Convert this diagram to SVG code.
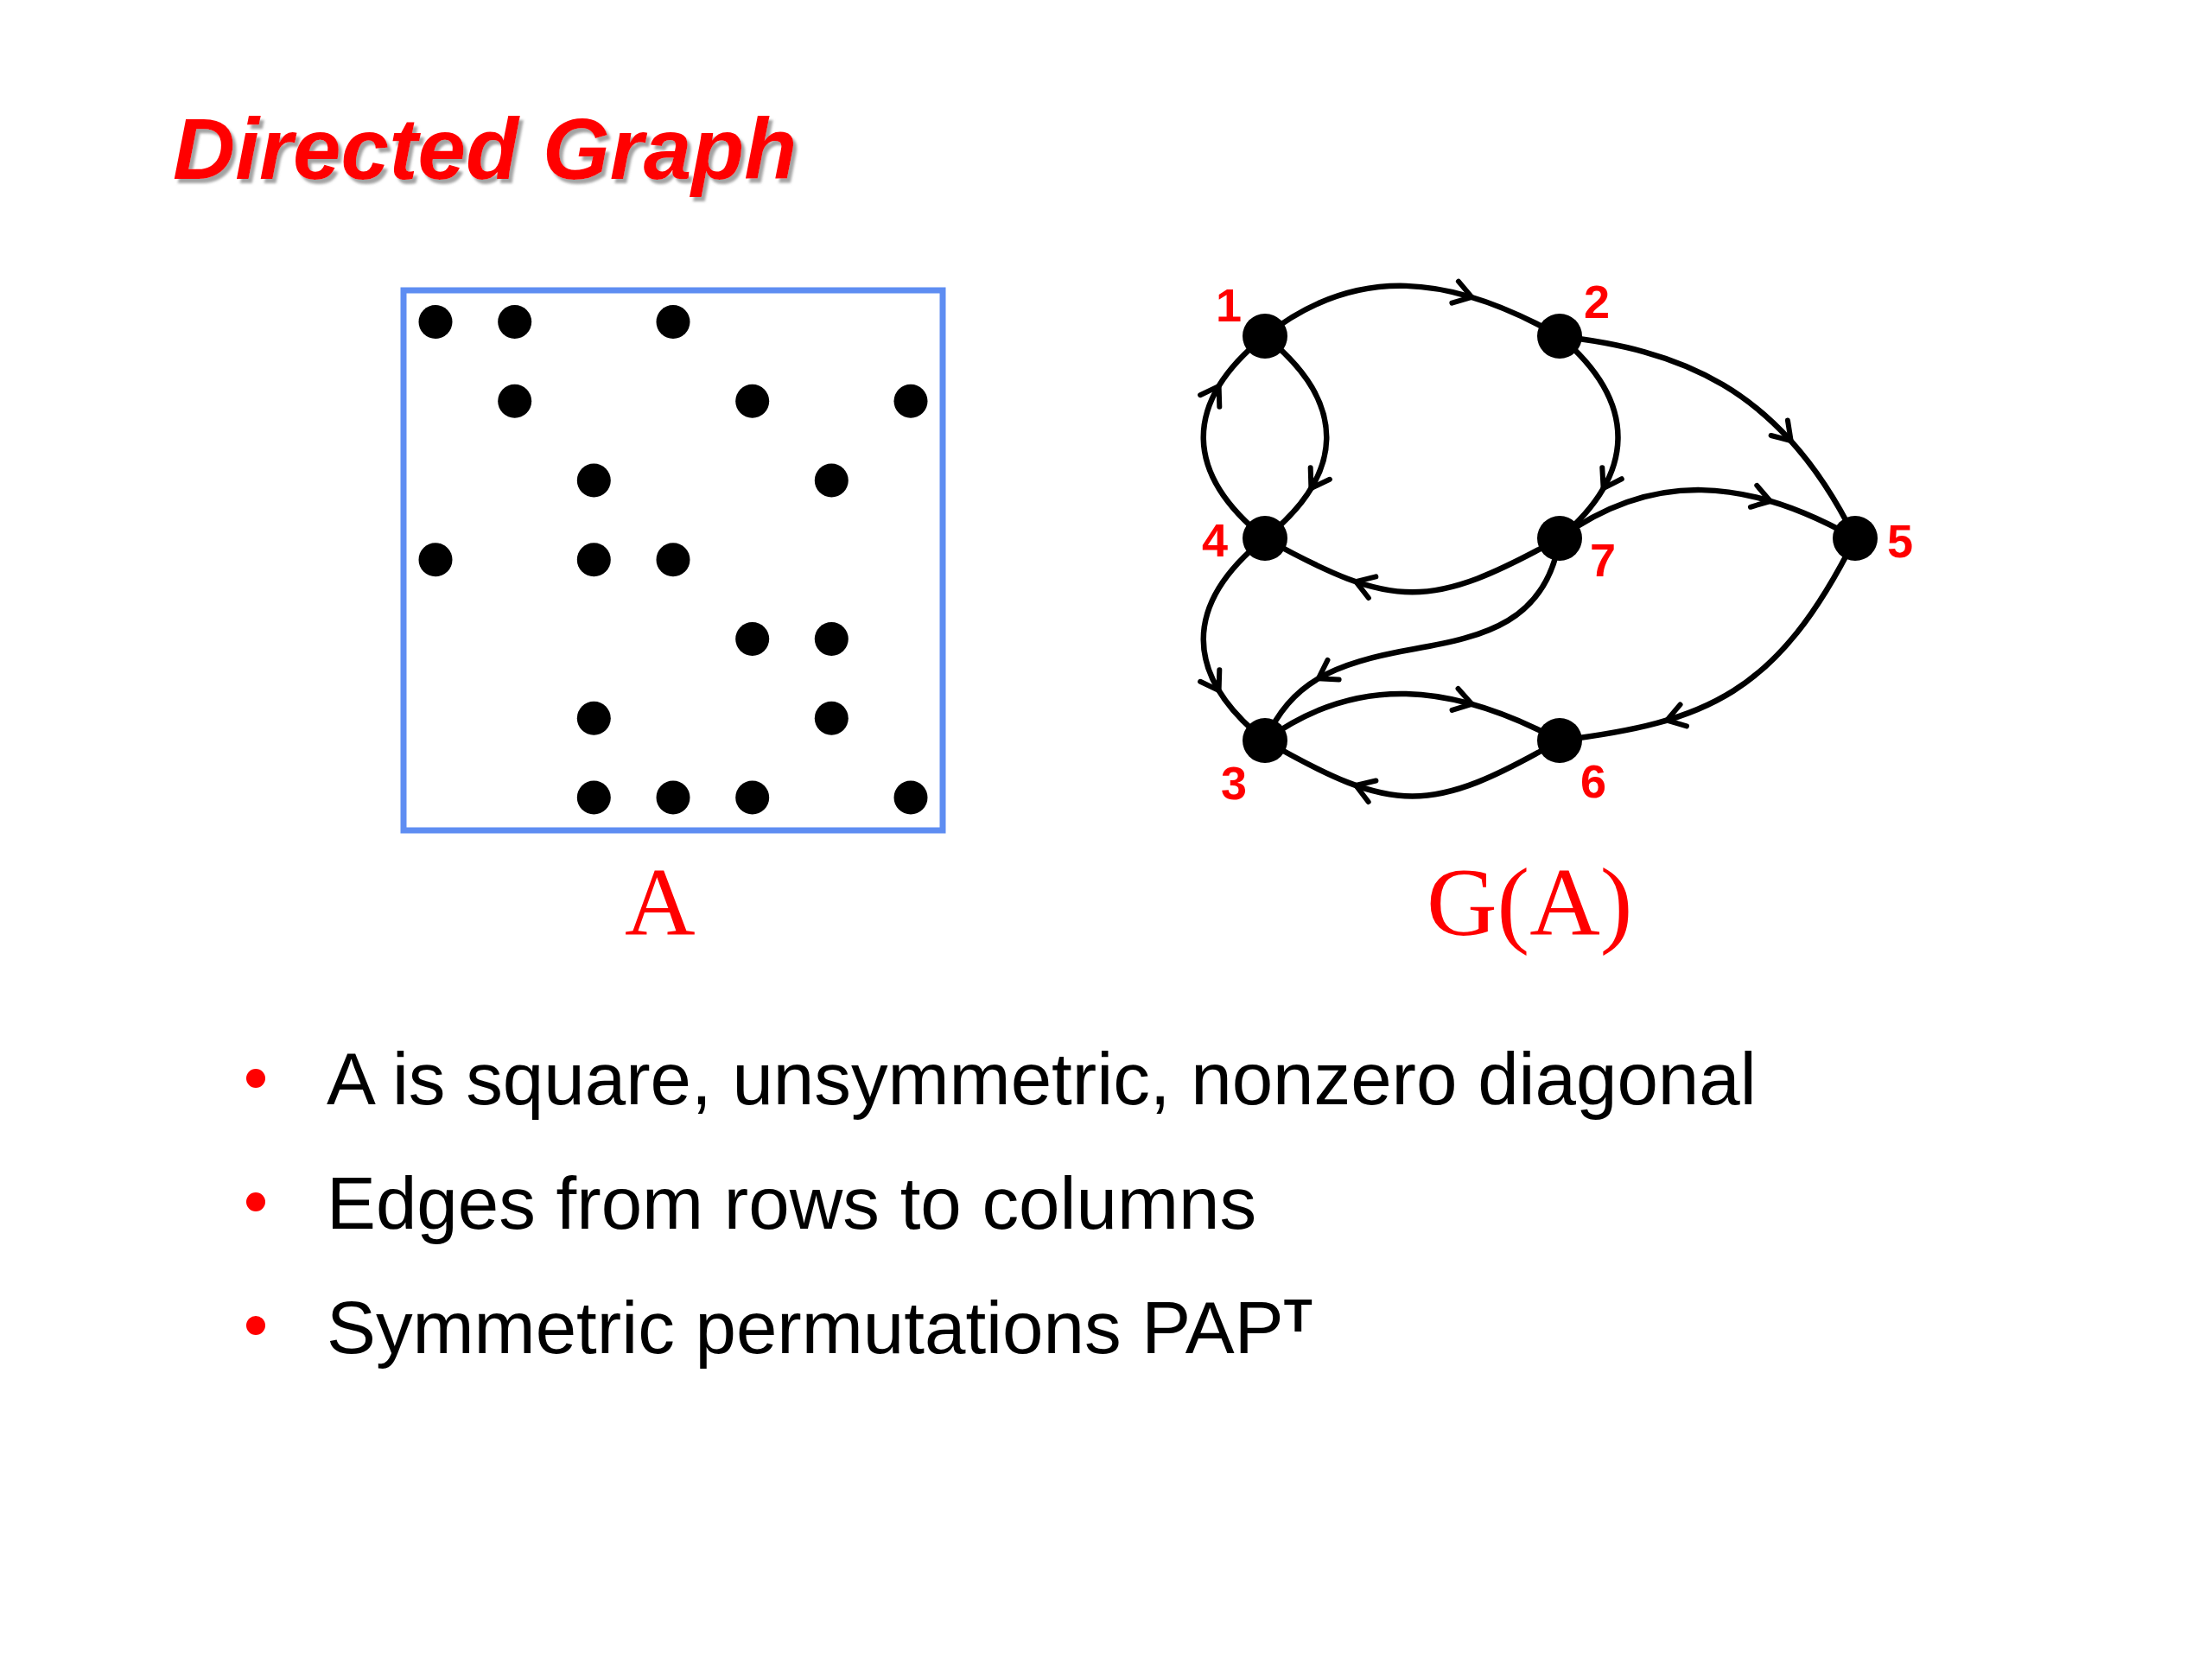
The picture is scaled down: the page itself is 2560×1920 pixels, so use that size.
<svg xmlns="http://www.w3.org/2000/svg" width="2560" height="1920" viewBox="0 0 2560 1920">
<defs>
<style>
.edge{fill:none;stroke:#000;stroke-width:6.5;stroke-linecap:round}
.chev{fill:none;stroke:#000;stroke-width:6;stroke-linecap:round;stroke-linejoin:round}
.node{fill:#000}
.nl{font-family:"Liberation Sans",Arial,sans-serif;font-weight:bold;font-size:54px;fill:#ff0000;text-anchor:middle}
.dot{fill:#000}
.bul{fill:#ff0000}
.bt{font-family:"Liberation Sans",Arial,sans-serif;font-size:85.3px;fill:#000}
.cap{font-family:"Liberation Serif","Times New Roman",serif;font-size:113px;fill:#ff0000}
.title{font-family:"Liberation Sans",Arial,sans-serif;font-weight:bold;font-style:italic;font-size:100px;fill:#ff0000}
</style>
<filter id="sh" x="-5%" y="-20%" width="115%" height="150%">
<feDropShadow dx="4" dy="5" stdDeviation="1.5" flood-color="#8c8c8c" flood-opacity="0.8"/>
</filter>
<path id="ar" d="M-20,-13 L0,0 L-20,13" class="chev"/>
</defs>
<rect width="2560" height="1920" fill="#fff"/>

<text class="title" x="200" y="207" filter="url(#sh)">Directed Graph</text>

<g id="matrix">
<rect x="467" y="336" width="624" height="625" fill="none" stroke="#5e8df2" stroke-width="7"/>
<circle class="dot" cx="504" cy="372.5" r="19.5"/>
<circle class="dot" cx="595.7" cy="372.5" r="19.5"/>
<circle class="dot" cx="779" cy="372.5" r="19.5"/>
<circle class="dot" cx="595.7" cy="464.2" r="19.5"/>
<circle class="dot" cx="870.7" cy="464.2" r="19.5"/>
<circle class="dot" cx="1054" cy="464.2" r="19.5"/>
<circle class="dot" cx="687.3" cy="556" r="19.5"/>
<circle class="dot" cx="962.3" cy="556" r="19.5"/>
<circle class="dot" cx="504" cy="647.7" r="19.5"/>
<circle class="dot" cx="687.3" cy="647.7" r="19.5"/>
<circle class="dot" cx="779" cy="647.7" r="19.5"/>
<circle class="dot" cx="870.7" cy="739.5" r="19.5"/>
<circle class="dot" cx="962.3" cy="739.5" r="19.5"/>
<circle class="dot" cx="687.3" cy="831.2" r="19.5"/>
<circle class="dot" cx="962.3" cy="831.2" r="19.5"/>
<circle class="dot" cx="687.3" cy="923" r="19.5"/>
<circle class="dot" cx="779" cy="923" r="19.5"/>
<circle class="dot" cx="870.7" cy="923" r="19.5"/>
<circle class="dot" cx="1054" cy="923" r="19.5"/>
</g>
<text class="cap" x="723" y="1082">A</text>

<g id="edges">
<path class="edge" d="M1464,389 C1570,305 1680,318 1805,389"/>
<use href="#ar" transform="translate(1703.3,343.9) rotate(16.8)"/>
<path class="edge" d="M1464,389 C1559,465 1559,547 1464,623"/>
<use href="#ar" transform="translate(1517.4,565.1) rotate(121.3)"/>
<path class="edge" d="M1464,623 C1369,547 1369,465 1464,389"/>
<use href="#ar" transform="translate(1410.6,446.9) rotate(-58.7)"/>
<path class="edge" d="M1805,389 C1895,465 1895,547 1805,623"/>
<use href="#ar" transform="translate(1855.6,565.1) rotate(119.9)"/>
<path class="edge" d="M1805,389 C1940,405 2060,445 2147,623"/>
<use href="#ar" transform="translate(2072.7,510.1) rotate(47.9)"/>
<path class="edge" d="M1805,623 C1912,545 2022,552 2147,623"/>
<use href="#ar" transform="translate(2048.8,580) rotate(16.5)"/>
<path class="edge" d="M1805,623 C1655,706 1614,706 1464,623"/>
<use href="#ar" transform="translate(1569.2,673.2) rotate(-161)"/>
<path class="edge" d="M1805,623 C1790,720 1717,737 1637,751 C1540,768 1495,790 1464,857"/>
<use href="#ar" transform="translate(1525.8,785.3) rotate(149.6)"/>
<path class="edge" d="M1464,623 C1369,699 1369,781 1464,857"/>
<use href="#ar" transform="translate(1410.6,799.1) rotate(58.7)"/>
<path class="edge" d="M1464,857 C1570,780 1680,790 1805,857"/>
<use href="#ar" transform="translate(1703.3,814.8) rotate(15.6)"/>
<path class="edge" d="M1805,857 C1655,943 1614,943 1464,857"/>
<use href="#ar" transform="translate(1569.2,909) rotate(-160.4)"/>
<path class="edge" d="M2147,623 C2057,803 1975,836 1805,857"/>
<use href="#ar" transform="translate(1929.1,833.6) rotate(163.4)"/>
</g>

<g id="node-1"><circle class="node" cx="1464" cy="389" r="26"/><text class="nl" x="1422" y="372">1</text></g>
<g id="node-2"><circle class="node" cx="1805" cy="389" r="26"/><text class="nl" x="1848" y="368">2</text></g>
<g id="node-3"><circle class="node" cx="1464" cy="857" r="26"/><text class="nl" x="1428" y="925">3</text></g>
<g id="node-4"><circle class="node" cx="1464" cy="623" r="26"/><text class="nl" x="1406" y="644">4</text></g>
<g id="node-5"><circle class="node" cx="2147" cy="623" r="26"/><text class="nl" x="2199" y="645">5</text></g>
<g id="node-6"><circle class="node" cx="1805" cy="857" r="26"/><text class="nl" x="1844" y="923">6</text></g>
<g id="node-7"><circle class="node" cx="1805" cy="623" r="26"/><text class="nl" x="1855" y="667">7</text></g>
<text class="cap" x="1651" y="1082">G(A)</text>

<g id="bullets">
<circle class="bul" cx="296" cy="1248" r="11"/>
<circle class="bul" cx="296" cy="1391" r="11"/>
<circle class="bul" cx="296" cy="1534" r="11"/>
<text class="bt" x="378" y="1278">A is square, unsymmetric, nonzero diagonal</text>
<text class="bt" x="378" y="1422">Edges from rows to columns</text>
<text class="bt" x="378" y="1566">Symmetric permutations PAP<tspan font-size="54" font-weight="bold" dy="-25">T</tspan></text>
</g>
</svg>
